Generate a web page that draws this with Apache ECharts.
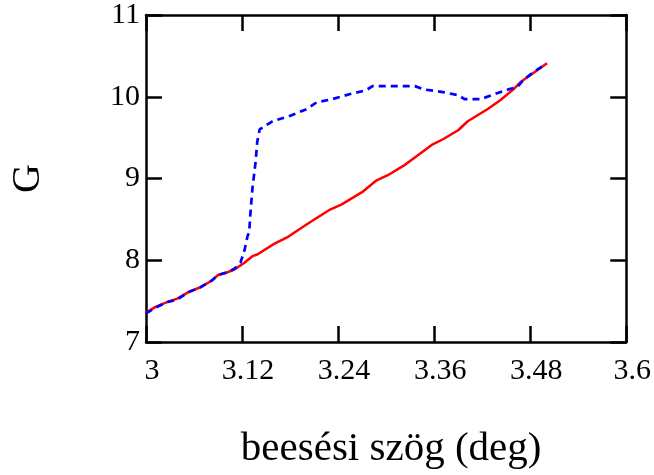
<!DOCTYPE html>
<html>
<head>
<meta charset="utf-8">
<script src="https://cdn.jsdelivr.net/npm/echarts@6/dist/echarts.min.js"></script>
<style>
  html, body { margin: 0; padding: 0; background: #fff; }
  #chart { width: 654px; height: 475px; }
</style>
</head>
<body>
<div id="chart"></div>
<script>
// Incidence angle (deg) and G for the two curves
const angleRed = [3.000, 3.012, 3.027, 3.039, 3.053, 3.068, 3.082, 3.090, 3.101, 3.111,
  3.123, 3.133, 3.139, 3.160, 3.178, 3.201, 3.230, 3.244, 3.271, 3.287, 3.302, 3.324,
  3.357, 3.371, 3.390, 3.402, 3.427, 3.443, 3.459, 3.468, 3.484, 3.501];
const gRed = [7.36, 7.43, 7.49, 7.53, 7.61, 7.67, 7.75, 7.82, 7.85, 7.89,
  7.97, 8.05, 8.07, 8.20, 8.29, 8.44, 8.62, 8.68, 8.84, 8.97, 9.04, 9.17,
  9.41, 9.48, 9.59, 9.70, 9.85, 9.96, 10.09, 10.18, 10.29, 10.41];

const angleBlue = [3.000, 3.012, 3.027, 3.039, 3.053, 3.068, 3.082, 3.090, 3.101, 3.111,
  3.118, 3.123, 3.127, 3.129, 3.130, 3.133, 3.137, 3.139, 3.142, 3.158, 3.181, 3.201,
  3.213, 3.232, 3.254, 3.275, 3.283, 3.312, 3.336, 3.347, 3.369, 3.390, 3.398, 3.418,
  3.435, 3.453, 3.464, 3.472, 3.484, 3.498];
const gBlue = [7.35, 7.42, 7.49, 7.52, 7.61, 7.67, 7.75, 7.82, 7.85, 7.90,
  7.97, 8.12, 8.30, 8.34, 8.52, 8.88, 9.21, 9.45, 9.60, 9.70, 9.77, 9.85,
  9.93, 9.97, 10.03, 10.08, 10.13, 10.13, 10.13, 10.09, 10.06, 10.02, 9.97, 9.97,
  10.03, 10.09, 10.12, 10.21, 10.30, 10.39];

const xTicks = { min: 3, max: 3.6, step: 0.12 };
const yTicks = { min: 7, max: 11, step: 1 };

const pairs = (xs, ys) => xs.map((x, i) => [x, ys[i]]);

const serif = '"Liberation Serif", "Times New Roman", serif';
const frame = { show: true, lineStyle: { color: '#000', width: 2.5 } };
const ticks = { show: true, inside: true, length: 16, lineStyle: { color: '#000', width: 2.5 } };

const chart = echarts.init(document.getElementById('chart'), null, { renderer: 'canvas' });
chart.setOption({
  animation: false,
  backgroundColor: '#fff',
  grid: { left: 140, right: 27, top: 12, bottom: 133, containLabel: false },
  xAxis: [
    {
      type: 'value', position: 'bottom',
      min: xTicks.min, max: xTicks.max, interval: xTicks.step,
      axisLine: frame, axisTick: ticks, splitLine: { show: false },
      axisLabel: {
        show: true, margin: 14, color: '#000', fontFamily: serif, fontSize: 30,
        padding: [0, 0, 0, 12],
        showMinLabel: true, showMaxLabel: true,
        formatter: v => String(+v.toFixed(2))
      },
      name: 'beesési szög (deg)', nameLocation: 'middle', nameGap: 87,
      nameTextStyle: { color: '#000', fontFamily: serif, fontSize: 41, padding: [0, 0, 0, 10] }
    },
    {
      type: 'value', position: 'top',
      min: xTicks.min, max: xTicks.max, interval: xTicks.step,
      axisLine: frame, axisTick: ticks, splitLine: { show: false },
      axisLabel: { show: false }
    }
  ],
  yAxis: [
    {
      type: 'value', position: 'left',
      min: yTicks.min, max: yTicks.max, interval: yTicks.step,
      axisLine: frame, axisTick: ticks, splitLine: { show: false },
      axisLabel: {
        show: true, margin: 6, color: '#000', fontFamily: serif, fontSize: 30,
        padding: [8, 0, 0, 0],
        showMinLabel: true, showMaxLabel: true
      },
      name: 'G', nameLocation: 'middle', nameGap: 98, nameRotate: 90,
      nameTextStyle: { color: '#000', fontFamily: serif, fontSize: 40 }
    },
    {
      type: 'value', position: 'right',
      min: yTicks.min, max: yTicks.max, interval: yTicks.step,
      axisLine: frame, axisTick: ticks, splitLine: { show: false },
      axisLabel: { show: false }
    }
  ],
  series: [
    {
      type: 'line', xAxisIndex: 0, yAxisIndex: 0,
      data: pairs(angleRed, gRed),
      showSymbol: false, smooth: false,
      lineStyle: { color: '#ff0000', width: 2.5 }
    },
    {
      type: 'line', xAxisIndex: 0, yAxisIndex: 0,
      data: pairs(angleBlue, gBlue),
      showSymbol: false, smooth: false,
      lineStyle: { color: '#0000ff', width: 2.7, type: [7, 5] }
    }
  ]
});
</script>
</body>
</html>
